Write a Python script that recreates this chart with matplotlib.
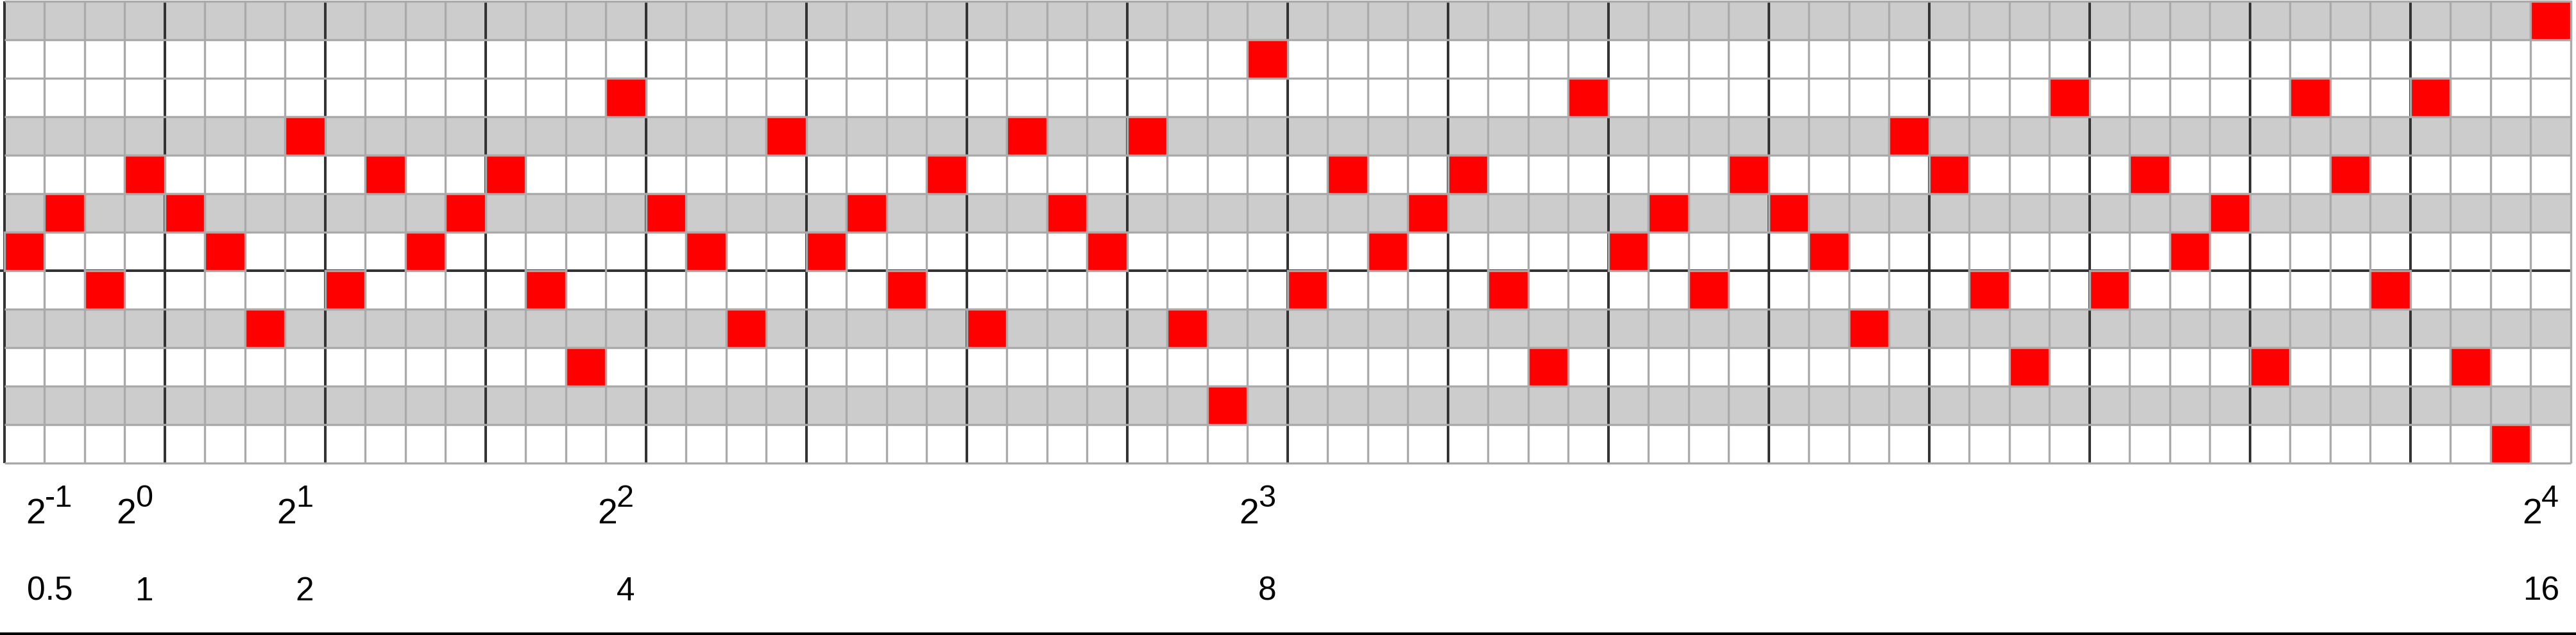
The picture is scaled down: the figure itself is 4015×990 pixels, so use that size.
import numpy as np
import matplotlib.pyplot as plt
from matplotlib.lines import Line2D

plt.rcParams['font.family'] = ['Liberation Sans', 'DejaVu Sans']

# rows of the roll, counted from the bottom
pitch_names = ['G', 'G#', 'A', 'A#', 'B', 'C', 'C#', 'D', 'D#', 'E', 'F', 'F#']
# one note per step, given as the row it sits in
notes = [5, 6, 4, 7, 6, 5, 3, 8, 4, 7, 5, 6, 7, 4, 2, 9,
         6, 5, 3, 8, 5, 6, 4, 7, 3, 8, 6, 5, 8, 3, 1, 10,
         4, 7, 5, 6, 7, 4, 2, 9, 5, 6, 4, 7, 6, 5, 3, 8,
         7, 4, 2, 9, 4, 7, 5, 6, 2, 9, 7, 4, 9, 2, 0, 11]
steps_per_beat = 4
beat_marks = [0.5, 1, 2, 4, 8, 16]
exponents = ['-1', '0', '1', '2', '3', '4']

n_steps = len(notes)
n_rows = len(pitch_names)
c_row = pitch_names.index('C')

W, H = 4016, 990
col_px, row_px = 62.5, 60.0
left_px, top_px = 7.0, 1.5

fig = plt.figure(figsize=(W / 100, H / 100), dpi=100)
ax = fig.add_axes([0, 0, 1, 1])
x0 = -left_px / col_px
y1 = n_rows + top_px / row_px
ax.set_xlim(x0, x0 + W / col_px)
ax.set_ylim(y1 - H / row_px, y1)
ax.axis('off')

# key bands
band_colors = ['#cccccc' if '#' in p else 'white' for p in pitch_names]
ax.barh(np.arange(n_rows), n_steps, left=0, height=1, align='edge',
        color=band_colors, linewidth=0, zorder=0.5)

# beat lines and the C line
dark = '#333333'
ax.vlines(np.arange(0, n_steps, steps_per_beat), 0, n_rows, color=dark, lw=2.9, zorder=1)
ax.hlines(c_row, x0, n_steps, color=dark, lw=2.9, zorder=1)

# light grid
grid = '#aaaaaa'
cols = [c for c in range(1, n_steps + 1) if c % steps_per_beat or c == n_steps]
rows = [r for r in range(n_rows + 1) if r != c_row]
ax.vlines(cols, 0, n_rows, color=grid, lw=2.4, zorder=2)
ax.hlines(rows, 0, n_steps, color=grid, lw=2.4, zorder=2)

# notes
ax.bar(np.arange(n_steps), 1, bottom=notes, width=1, align='edge',
       color='#ff0000', edgecolor=grid, linewidth=2.4, zorder=3)

# beat labels: power of two above, plain value below
for v, e in zip(beat_marks, exponents):
    x = v * steps_per_beat
    sup = ax.annotate(e, xy=(x, 0), xytext=(-19, -69),
                      textcoords='offset pixels', ha='right', va='baseline', fontsize=35)
    ax.annotate('2', xy=(0, 0), xycoords=sup, xytext=(1, -15),
                textcoords='offset pixels', ha='right', va='baseline', fontsize=40)
    ax.annotate('%g' % v, xy=(x, 0), xytext=(-18, -214),
                textcoords='offset pixels', ha='right', va='baseline', fontsize=37)

fig.add_artist(Line2D([0, 1], [2.5 / H, 2.5 / H], transform=fig.transFigure,
                      color='black', lw=3.6))

fig.savefig('out.png', dpi=100)
